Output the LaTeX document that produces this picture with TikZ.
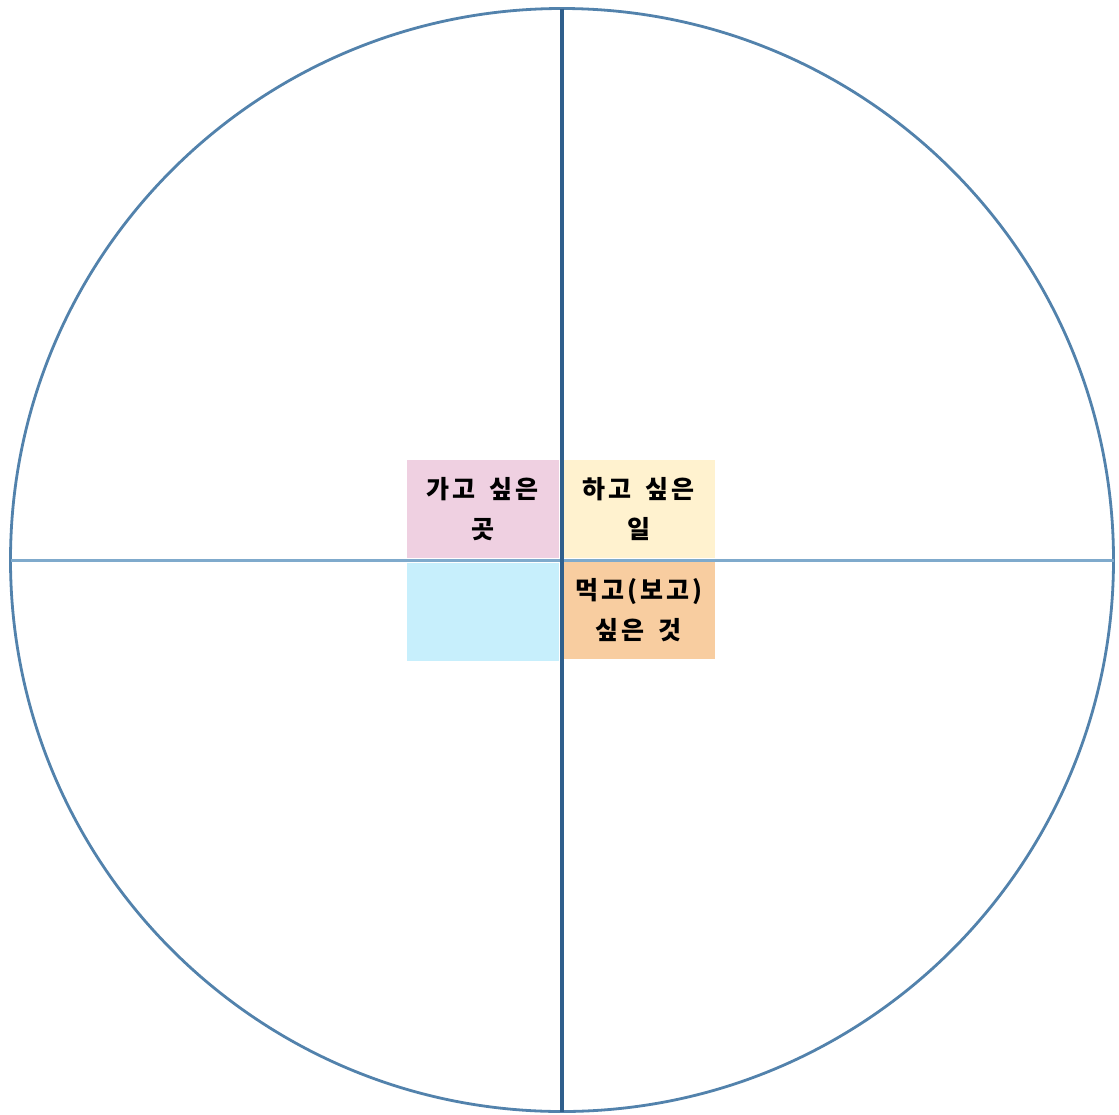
\documentclass[tikz,border=0pt]{standalone}
\usepackage{fontspec}
\usepackage{tikz}
\usetikzlibrary{positioning}
\usepackage{xcolor}
\newfontfamily\cjk{Noto Sans CJK KR}[LetterSpace=12, WordSpace=1.6]
\definecolor{ringblue}{HTML}{5282AC}
\definecolor{vlineblue}{HTML}{2F5F8C}
\definecolor{hlineblue}{HTML}{7FAACC}
\definecolor{wishpink}{HTML}{EFD0E1}
\definecolor{wishyellow}{HTML}{FFF2CF}
\definecolor{wishcyan}{HTML}{C7EFFC}
\definecolor{wishorange}{HTML}{F8CDA0}
\tikzstyle{wishbox} = [rectangle, minimum width=152pt, minimum height=98pt, inner sep=0pt, text centered, align=center, font=\cjk\bfseries\fontsize{25}{40}\selectfont]

\begin{document}
\begin{tikzpicture}[x=1pt, y=-1pt]
    \fill[white] (0,0) rectangle (1119,1114);
    \useasboundingbox (0,0) rectangle (1119,1114);

    % Quarter boxes
    \node (go) [wishbox, fill=wishpink, anchor=south east] at (559,558) {가고 싶은\\곳};
    \node (do) [wishbox, fill=wishyellow, minimum width=153pt, right=3pt of go] {하고 싶은\\일};
    \node (see) [wishbox, fill=wishcyan, below=5pt of go] {};
    \node (eat) [wishbox, fill=wishorange, minimum width=153pt, below=3pt of do] {먹고(보고)\\싶은 것};

    % Outer circle
    \node (ring) [circle, draw=ringblue, line width=2.8pt, minimum size=1103pt, inner sep=0pt, outer sep=0pt] at (562,560) {};

    % Axes
    \draw [hlineblue, line width=3pt] (ring.west) -- (ring.east);
    \draw [vlineblue, line width=3.5pt] (ring.north) -- (ring.south);
\end{tikzpicture}
\end{document}
